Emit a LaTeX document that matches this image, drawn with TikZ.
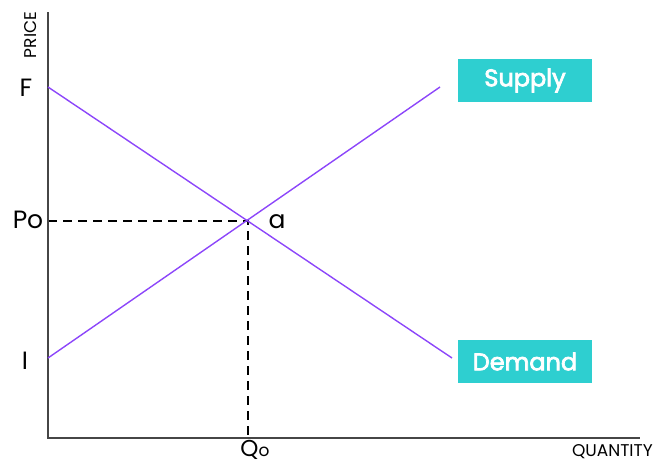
\documentclass[tikz,border=0pt]{standalone}
\usepackage{fontspec}
\setmainfont{Poppins}
\newfontfamily\medfont{Poppins}[FakeBold=3]
\definecolor{curve}{RGB}{140,70,250}
\definecolor{teal}{RGB}{46,207,208}
\definecolor{axis}{RGB}{70,70,70}
\tikzset{
  axisline/.style={draw=axis, line width=1.8pt},
  curveline/.style={draw=curve, line width=1.4pt},
  guide/.style={draw=black, line width=2.4pt, dash pattern=on 9pt off 6pt},
  tag/.style={fill=teal, text=white, font=\medfont\fontsize{24}{28}\selectfont, minimum width=134pt, minimum height=43pt, inner sep=0pt},
  ticklbl/.style={font=\fontsize{25}{30}\selectfont, inner sep=0pt, anchor=base},
  axislbl/.style={font=\fontsize{17}{20}\selectfont, inner sep=0pt}
}
\begin{document}
\begin{tikzpicture}[x=1pt,y=-1pt]
\useasboundingbox (0,0) rectangle (657,463);
\coordinate (top) at (48,12);
\coordinate (O) at (48,438);
\coordinate (right) at (640,438);
\coordinate (F) at (48,87);
\coordinate (I) at (48,358);
\coordinate (Send) at (440,87);
\coordinate (Dend) at (452,358);
\coordinate (E) at (248,221);
\coordinate (Pax) at (48,221);
\coordinate (Qax) at (248,438);
\draw[guide] (Pax) -- (E) -- (Qax);
\draw[axisline] (top) -- (O) -- (right);
\draw[curveline] (I) -- (Send);
\draw[curveline] (F) -- (Dend);
\node[tag] (supply) at (525,80.5) {Supply};
\node[tag] (demand) at (525,361.5) {Demand};
\node[axislbl, rotate=90] (price) at (31,35) {PRICE};
\node[axislbl, anchor=east] (qty) at (653,452) {QUANTITY};
\node[ticklbl] (Flbl) at (26,96) {F};
\node[ticklbl] (Ilbl) at (25,369) {I};
\node[ticklbl] (Plbl) at (28,228) {Po};
\node[ticklbl, font=\fontsize{23}{26}\selectfont] (Qlbl) at (255,456) {Q{\fontsize{17}{20}\selectfont o}};
\node[ticklbl] (albl) at (277,228) {a};
\end{tikzpicture}
\end{document}
